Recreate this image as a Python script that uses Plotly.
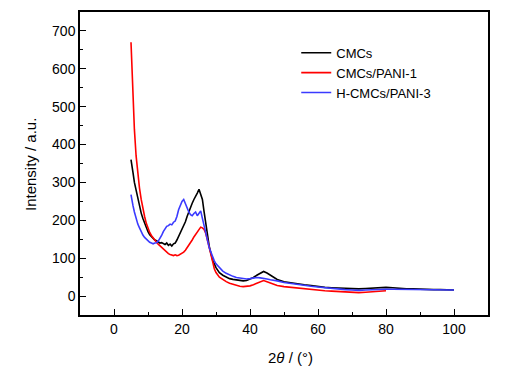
import plotly.graph_objects as go

# ---- data ----
cmcs_x = [5.0, 5.3, 5.6, 6.0, 6.5, 7.0, 7.5, 8.0, 8.5, 9.0,
          9.5, 10.0, 10.5, 11.0, 11.5, 12.0, 12.5, 13.0, 13.5, 14.0,
          14.5, 15.0, 15.5, 16.0, 16.5, 17.0, 17.5, 18.0, 18.5, 19.0,
          19.5, 20.0, 20.5, 21.0, 21.5, 22.0, 22.5, 23.0, 23.5, 24.0,
          24.5, 25.0, 25.5, 26.0, 26.5, 27.0, 27.5, 28.0, 28.5, 29.0,
          30, 31, 32, 33, 34, 35, 36, 37, 38, 39,
          40, 41, 42, 43, 44, 45, 46, 47, 48, 50,
          52, 54, 56, 58, 60, 62, 64, 66, 68, 70,
          72, 74, 76, 78, 80, 82, 84, 86, 88, 90,
          92, 94, 96, 98, 100]
cmcs_y = [360, 335, 325, 300, 280, 255, 235, 219, 205, 192,
          180, 170, 162, 157, 152, 148, 146, 143, 140, 141,
          138, 136, 140, 134, 137, 132, 138, 140, 148, 157,
          168, 176, 184, 196, 210, 223, 235, 245, 255, 262,
          272, 282, 270, 255, 222, 190, 157, 132, 113, 95,
          75, 62, 55, 50, 46, 44, 42, 41, 40, 41,
          44, 49, 55, 61, 65, 61, 55, 48, 44, 38,
          35, 33, 30, 28, 25, 23, 22, 21, 20, 20,
          19, 20, 21, 23, 23, 22, 20, 19, 19, 18,
          18, 17, 17, 17, 16]

pani1_x = [5.0, 5.3, 5.6, 6.0, 6.5, 7.0, 7.5, 8.0, 8.5, 9.0,
           9.5, 10.0, 10.5, 11.0, 11.5, 12.0, 12.5, 13.0, 13.5, 14.0,
           14.5, 15.0, 15.5, 16.0, 16.5, 17.0, 17.5, 18.0, 18.5, 19.0,
           19.5, 20.0, 20.5, 21.0, 21.5, 22.0, 22.5, 23.0, 23.5, 24.0,
           24.5, 25.0, 25.5, 26.0, 26.5, 27.0, 27.5, 28.0, 28.5, 29.0,
           29.5, 30, 31, 32, 33, 34, 35, 36, 37, 38,
           39, 40, 41, 42, 43, 44, 45, 46, 47, 48,
           50, 52, 54, 56, 58, 60, 62, 64, 66, 68,
           70, 72, 74, 76, 78, 80]
pani1_y = [670, 600, 527, 440, 370, 320, 285, 255, 230, 210,
           192, 178, 168, 160, 153, 148, 142, 137, 133, 128,
           124, 119, 116, 112, 110, 108, 107, 109, 107, 108,
           110, 112, 116, 121, 127, 134, 141, 148, 156, 163,
           170, 176, 182, 180, 176, 165, 148, 132, 113, 92,
           72, 62, 50, 43, 38, 34, 31, 28, 26, 25,
           25, 27, 30, 34, 38, 41, 38, 34, 30, 28,
           25, 23, 21, 19, 18, 16, 14, 13, 12, 11,
           10, 9, 10, 12, 14, 14]

pani3_x = [5.0, 5.3, 5.6, 6.0, 6.5, 7.0, 7.5, 8.0, 8.5, 9.0,
           9.5, 10.0, 10.5, 11.0, 11.5, 12.0, 12.5, 13.0, 13.5, 14.0,
           14.5, 15.0, 15.5, 16.0, 16.5, 17.0, 17.5, 18.0, 18.5, 19.0,
           19.5, 20.0, 20.5, 21.0, 21.5, 22.0, 22.5, 23.0, 23.5, 24.0,
           24.5, 25.0, 25.5, 26.0, 26.5, 27.0, 27.5, 28.0, 28.5, 29.0,
           29.5, 30, 31, 32, 33, 34, 35, 36, 37, 38,
           39, 40, 41, 42, 43, 44, 45, 46, 47, 48,
           50, 52, 54, 56, 58, 60, 62, 64, 66, 68,
           70, 72, 74, 76, 78, 80, 82, 84, 86, 88,
           90, 92, 94, 96, 98, 100]
pani3_y = [268, 250, 238, 222, 205, 190, 180, 170, 161, 155,
           150, 146, 142, 140, 138, 140, 141, 145, 152, 160,
           170, 178, 184, 186, 190, 188, 195, 198, 210, 228,
           240, 250, 255, 242, 232, 222, 215, 212, 218, 222,
           212, 218, 225, 205, 185, 165, 145, 128, 116, 102,
           93, 85, 74, 66, 60, 55, 52, 49, 47, 45,
           45, 46, 48, 49, 48, 47, 45, 43, 42, 40,
           36, 33, 30, 28, 26, 24, 22, 20, 18, 17,
           16, 15, 16, 17, 18, 18, 18, 18, 18, 18,
           17, 17, 17, 16, 16, 16]

series_names = ["CMCs", "CMCs/PANI-1", "H-CMCs/PANI-3"]
x_ticks = [0, 20, 40, 60, 80, 100]
y_ticks = [0, 100, 200, 300, 400, 500, 600, 700]
x_title = "2<i>θ</i> / (°)"
y_title = "Intensity / a.u."

# ---- figure ----
FONT = "Liberation Sans, Arial, sans-serif"
colors = ["#000000", "#ff0000", "#3a3aff"]

fig = go.Figure()
for name, xs, ys, c in zip(series_names,
                           [cmcs_x, pani1_x, pani3_x],
                           [cmcs_y, pani1_y, pani3_y],
                           colors):
    fig.add_trace(go.Scatter(x=xs, y=ys, mode="lines", name=name,
                             line=dict(color=c, width=1.6)))

axis_common = dict(
    showgrid=False, zeroline=False, showline=True, mirror=True,
    linecolor="black", linewidth=1.5,
    ticks="inside", ticklen=6, tickwidth=1.3, tickcolor="black",
    tickfont=dict(family=FONT, size=14, color="black"),
)

fig.update_xaxes(range=[-10, 110], tickvals=x_ticks,
                 minor=dict(ticks="inside", ticklen=3, dtick=10, tick0=0,
                            tickcolor="black", tickwidth=1.2),
                 **axis_common)
fig.update_yaxes(range=[-50, 750], tickvals=y_ticks,
                 minor=dict(ticks="inside", ticklen=3, dtick=50, tick0=0,
                            tickcolor="black", tickwidth=1.2),
                 **axis_common)

# axis titles placed as annotations for exact positioning
fig.add_annotation(text=x_title, xref="paper", yref="paper",
                   x=0.517, y=-0.139, xanchor="center", yanchor="middle",
                   showarrow=False,
                   font=dict(family=FONT, size=15, color="black"))
fig.add_annotation(text=y_title, xref="paper", yref="paper",
                   x=-0.1225, y=0.495, xanchor="center", yanchor="middle",
                   textangle=-90, showarrow=False,
                   font=dict(family=FONT, size=15, color="black"))

fig.update_layout(
    width=530, height=371,
    margin=dict(l=72, r=50, t=4, b=64, autoexpand=False),
    paper_bgcolor="white", plot_bgcolor="white",
    showlegend=True,
    legend=dict(x=0.53, y=0.915, xanchor="left", yanchor="top",
                bgcolor="rgba(0,0,0,0)", borderwidth=0,
                font=dict(family=FONT, size=13, color="black"),
                itemwidth=30, tracegroupgap=0),
    font=dict(family=FONT, color="black"),
)

fig.write_html("out.html")
